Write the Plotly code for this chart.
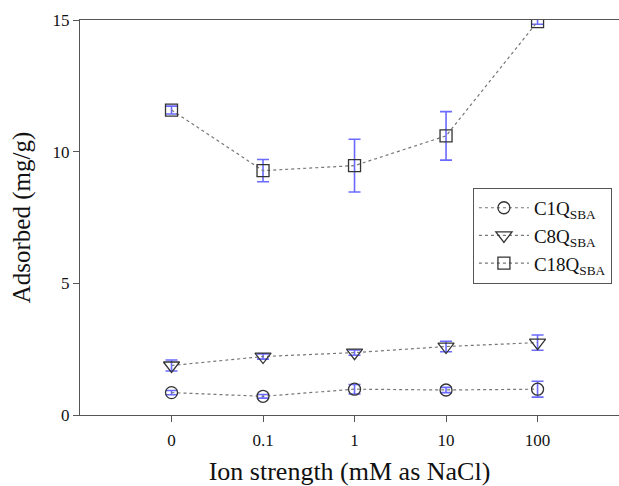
import plotly.graph_objects as go

categories = ["0", "0.1", "1", "10", "100"]

c1_vals = [0.85, 0.71, 0.98, 0.95, 0.98]
c1_err = [0.08, 0.07, 0.18, 0.10, 0.30]

c8_vals = [1.88, 2.22, 2.37, 2.60, 2.75]
c8_err = [0.21, 0.10, 0.10, 0.20, 0.29]

c18_vals = [11.58, 9.28, 9.47, 10.60, 14.94]
c18_err = [0.15, 0.42, 1.00, 0.92, 0.10]

series_names = ["C1Q<sub>SBA</sub>", "C8Q<sub>SBA</sub>", "C18Q<sub>SBA</sub>"]
y_ticks = [0, 5, 10, 15]

FONT = "Liberation Serif, Times New Roman, serif"
ERR_COLOR = "rgba(80,80,255,0.85)"
MARK_COLOR = "#333333"
LINE_COLOR = "#777777"

fig = go.Figure()
specs = [
    (c1_vals, c1_err, "circle-open", 12),
    (c8_vals, c8_err, "triangle-down-open", 14),
    (c18_vals, c18_err, "square-open", 12),
]
for name, (vals, errs, sym, sz) in zip(series_names, specs):
    fig.add_trace(go.Scatter(
        x=categories, y=vals, name=name, mode="lines+markers",
        line=dict(color=LINE_COLOR, width=1.2, dash="dot"),
        marker=dict(symbol=sym, size=sz, color=MARK_COLOR, line=dict(width=1.3, color=MARK_COLOR)),
        error_y=dict(type="data", array=errs, visible=True, color=ERR_COLOR, thickness=1.6, width=6),
    ))

fig.update_layout(
    width=619, height=486,
    margin=dict(l=80, r=0, t=20, b=71),
    plot_bgcolor="white", paper_bgcolor="white",
    font=dict(family=FONT, size=17, color="#111111"),
    showlegend=True,
    legend=dict(
        x=0.729, y=0.575, xanchor="left", yanchor="top",
        bgcolor="white", bordercolor="#555555", borderwidth=1,
        font=dict(family=FONT, size=19, color="#111111"),
        tracegroupgap=4, itemwidth=50,
    ),
    xaxis=dict(
        type="category", range=[-1.0, 4.89],
        showline=True, linecolor="#555555", linewidth=1.3, mirror=True,
        ticks="outside", ticklen=6, tickcolor="#555555", tickwidth=1,
        showgrid=False, zeroline=False,
        tickfont=dict(family=FONT, size=17),
        ticklabelstandoff=3,
        title=dict(text="Ion strength (mM as NaCl)", font=dict(family=FONT, size=26), standoff=15),
    ),
    yaxis=dict(
        range=[0, 15], tickvals=y_ticks,
        showline=True, linecolor="#555555", linewidth=1.3,
        ticks="outside", ticklen=6, tickcolor="#555555", tickwidth=1,
        showgrid=False, zeroline=False,
        tickfont=dict(family=FONT, size=17),
        title=dict(text="Adsorbed (mg/g)", font=dict(family=FONT, size=25), standoff=14),
    ),
)

fig.write_html("out.html")
